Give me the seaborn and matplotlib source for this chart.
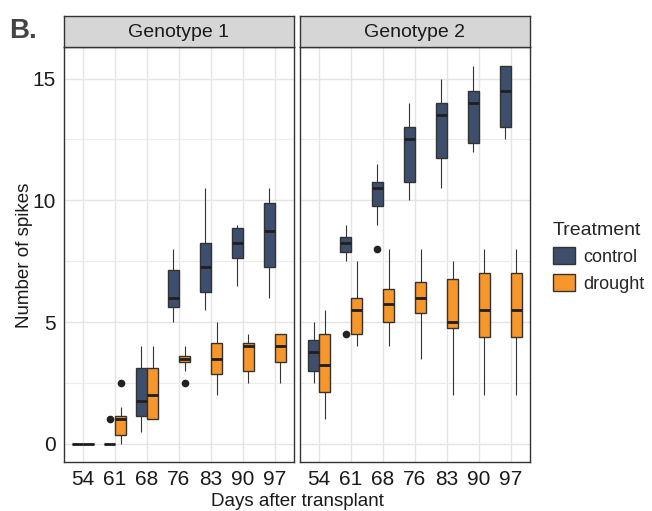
import numpy as np
import pandas as pd
import matplotlib
matplotlib.use("Agg")
import matplotlib.pyplot as plt
import seaborn as sns

# --- data: spikes per sample (quartiles / whiskers / outliers) ---
days = ["54", "61", "68", "76", "83", "90", "97"]
genotypes = ["Genotype 1", "Genotype 2"]
treatments = ["control", "drought"]

g1_control = [
    [0, 0, 0, 0, 0, 0, 0, 0, 0],
    [0, 0, 0, 0, 0, 0, 0, 0, 1],
    [0.5, 1, 1.125, 1.5, 1.75, 2.5, 3.125, 3.5, 4],
    [5, 5.5, 5.625, 6, 6, 6.5, 7.125, 7.5, 8],
    [5.5, 6, 6.25, 7, 7.25, 7.5, 8.25, 9, 10.5],
    [6.5, 7.5, 7.625, 8, 8.25, 8.5, 8.875, 9, 9],
    [6, 7, 7.25, 8, 8.75, 9, 9.875, 10, 10.5],
]
g1_drought = [
    [0, 0, 0, 0, 0, 0, 0, 0, 0],
    [0, 0.25, 0.375, 0.75, 1, 1, 1.125, 1.5, 2.5],
    [1, 1, 1, 1.5, 2, 2.5, 3.125, 3.5, 4],
    [2.5, 3, 3.375, 3.5, 3.5, 3.5, 3.625, 4, 4],
    [2, 2.5, 2.875, 3, 3.5, 4, 4.125, 4.5, 5],
    [2.5, 3, 3, 3.5, 4, 4, 4.125, 4.5, 4.5],
    [2.5, 3, 3.375, 4, 4, 4.5, 4.5, 4.5, 4.5],
]
g2_control = [
    [2.5, 3, 3, 3.5, 3.75, 4, 4.25, 4.5, 5],
    [4.5, 7.5, 7.875, 8, 8.25, 8.5, 8.5, 9, 9],
    [8, 9, 9.75, 10, 10.5, 10.5, 10.75, 11, 11.5],
    [10, 10.5, 10.75, 12, 12.5, 12.5, 13, 13.5, 14],
    [10.5, 11, 11.75, 13, 13.5, 13.5, 14, 14.5, 15],
    [12, 12.25, 12.375, 13.5, 14, 14, 14.5, 15, 15.5],
    [12.5, 13, 13, 14, 14.5, 15, 15.5, 15.5, 15.5],
]
g2_drought = [
    [1, 2, 2.125, 3, 3.25, 4, 4.5, 5, 5.5],
    [4, 4.5, 4.5, 5, 5.5, 6, 6, 7, 7.5],
    [4, 4.5, 5, 5.5, 5.75, 6, 6.375, 7, 8],
    [3.5, 5, 5.375, 6, 6, 6.25, 6.625, 7, 8],
    [2, 4, 4.75, 5, 5, 6, 6.75, 7, 7.5],
    [2, 4, 4.375, 5, 5.5, 6, 7, 7.5, 8],
    [2, 4, 4.375, 5, 5.5, 6, 7, 7.5, 8],
]

series = {
    ("Genotype 1", "control"): g1_control,
    ("Genotype 1", "drought"): g1_drought,
    ("Genotype 2", "control"): g2_control,
    ("Genotype 2", "drought"): g2_drought,
}

rows = []
for (geno, trt), per_day in series.items():
    for day, vals in zip(days, per_day):
        for v in vals:
            rows.append({"Genotype": geno, "Treatment": trt, "Day": day, "Spikes": v})
df = pd.DataFrame(rows)

# --- style (ggplot theme_bw look) ---
sns.set_theme(style="white")
plt.rcParams["font.family"] = ["Liberation Sans", "DejaVu Sans"]

palette = {"control": "#3d4f6c", "drought": "#f7962a"}
edge = "#333333"

fig = plt.figure(figsize=(6.52, 5.11), dpi=100)
W, H = 652, 511
panels = [(64, 294), (300, 530)]
top_px, bot_px, strip_top = 47, 462, 16

axes = []
for i, (geno, (x0, x1)) in enumerate(zip(genotypes, panels)):
    ax = fig.add_axes([x0 / W, 1 - bot_px / H, (x1 - x0) / W, (bot_px - top_px) / H])
    sub = df[df["Genotype"] == geno]
    sns.boxplot(
        data=sub, x="Day", y="Spikes", hue="Treatment", order=days,
        hue_order=treatments, palette=palette, width=0.7, gap=0.04,
        linewidth=1, linecolor=edge, saturation=1, ax=ax,
        legend=(i == 1),
        whiskerprops=dict(color=edge, linewidth=0.8),
        capprops=dict(linewidth=0),
        medianprops=dict(color="#1f1f1f", linewidth=2),
        flierprops=dict(marker="o", markersize=4.5, markerfacecolor="#222222",
                        markeredgecolor="#222222"),
    )
    ax.set_xlim(-0.6, 6.6)
    ax.set_ylim(-0.75, 16.3)
    ax.set_yticks([0, 5, 10, 15])
    ax.set_yticks([2.5, 7.5, 12.5], minor=True)
    ax.grid(True, which="major", color="#e4e4e4", linewidth=1)
    ax.grid(True, which="minor", axis="y", color="#ececec", linewidth=0.8)
    ax.set_axisbelow(True)
    for s in ax.spines.values():
        s.set_color("#333333")
        s.set_linewidth(1)
    ax.tick_params(axis="both", which="major", length=3, width=0.8, color="#333333",
                   labelsize=15, labelcolor="#1a1a1a", pad=3)
    ax.tick_params(axis="y", which="minor", length=0)
    ax.set_xlabel("")
    ax.set_ylabel("")
    if i == 1:
        ax.tick_params(axis="y", which="major", left=False, labelleft=False)
    axes.append(ax)

    # facet strip
    sax = fig.add_axes([x0 / W, 1 - top_px / H, (x1 - x0) / W, (top_px - strip_top) / H])
    sax.set_facecolor("#d6d6d6")
    sax.set_xticks([])
    sax.set_yticks([])
    for s in sax.spines.values():
        s.set_color("#333333")
        s.set_linewidth(1)
    sax.text(0.5, 0.47, geno, ha="center", va="center", fontsize=14, color="#1a1a1a",
             transform=sax.transAxes)

# legend
leg = axes[1].get_legend()
handles, labels = leg.legend_handles, [t.get_text() for t in leg.get_texts()]
leg.remove()
fig.legend(handles, labels, title="Treatment", loc="upper left",
           bbox_to_anchor=(553 / W, 1 - 222 / H), frameon=False, fontsize=13,
           title_fontsize=14, handlelength=1.2, handleheight=1.1,
           labelspacing=0.45, handletextpad=0.5, alignment="left",
           borderpad=0, borderaxespad=0)

fig.text((64 + 530) / 2 / W, 1 - 502 / H, "Days after transplant", ha="center",
         va="center", fontsize=13.5, color="#1a1a1a")
fig.text(25 / W, 1 - 255 / H, "Number of spikes", ha="center", va="center",
         rotation=90, fontsize=13.5, color="#1a1a1a")
fig.text(9 / W, 1 - 31 / H, "B.", ha="left", va="center", fontsize=20,
         fontweight="bold", color="#444444")

fig.savefig("out.png", dpi=100)
